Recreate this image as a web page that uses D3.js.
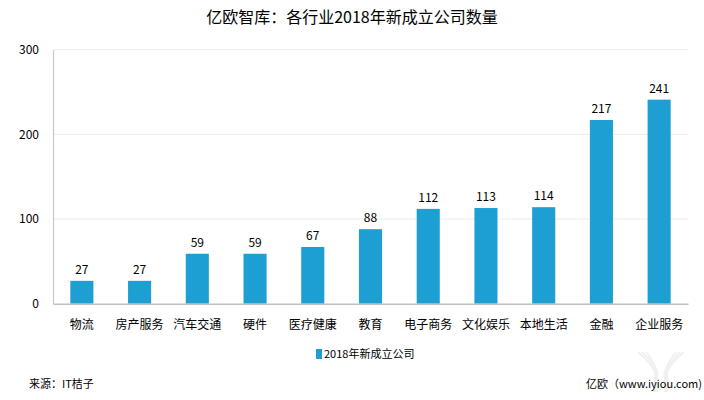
<!DOCTYPE html>
<html><head><meta charset="utf-8">
<script src="https://cdn.jsdelivr.net/npm/d3@7"></script>
<style>body{margin:0;background:#fff}svg{display:block}text{font-family:"Noto Sans CJK SC","Microsoft YaHei",sans-serif}</style>
</head><body><svg id="c" width="704" height="400"></svg>
<script>
const categories = ["物流","房产服务","汽车交通","硬件","医疗健康","教育","电子商务","文化娱乐","本地生活","金融","企业服务"];
const values = [27,27,59,59,67,88,112,113,114,217,241];
const yTicks = [0,100,200,300];
const seriesName = "2018年新成立公司";
const title = "亿欧智库：各行业2018年新成立公司数量";
const source = "来源：IT桔子";
const credit = "亿欧（www.iyiou.com)";

const svg = d3.select("#c");
const L=53,R=688,T=49.7,B=303.7;
const x = d3.scaleBand().domain(categories).range([L,R]).paddingInner(0.6).paddingOuter(0.3);
const y = d3.scaleLinear().domain([0,300]).range([B,T]);

// watermark logo
const wm = svg.append("g").attr("fill","none").attr("stroke","#f0f0f0").attr("stroke-width",2);
[0,4,8].forEach(o=>{
  wm.append("path").attr("d",`M${638+o},${352} Q${650+o*0.5},${362} ${655+o*0.3},${372} L${655+o*0.3},${392}`);
  wm.append("path").attr("d",`M${684-o},${352} Q${672-o*0.5},${362} ${667-o*0.3},${372} L${667-o*0.3},${392}`);
});

// grid
svg.append("g").selectAll("line").data(yTicks.filter(d=>d>0)).join("line")
  .attr("x1",L).attr("x2",R).attr("y1",d=>y(d)).attr("y2",d=>y(d))
  .attr("stroke","#ececec").attr("stroke-width",1);

// y axis
const ya = svg.append("g").attr("transform",`translate(${L},0)`)
  .call(d3.axisLeft(y).tickValues(yTicks).tickSize(0).tickPadding(14));
ya.select(".domain").attr("stroke","#c8c8c8").attr("stroke-width",1.2);
ya.selectAll("text").attr("font-size",12).attr("fill","#000").attr("font-family","Liberation Sans, Arial, sans-serif");

// bars
svg.append("g").selectAll("rect").data(values).join("rect")
  .attr("x",(d,i)=>x(categories[i])).attr("width",x.bandwidth())
  .attr("y",d=>y(d)).attr("height",d=>B-y(d)).attr("fill","#1e9fd3");

// value labels
svg.append("g").selectAll("text").data(values).join("text")
  .attr("x",(d,i)=>x(categories[i])+x.bandwidth()/2).attr("y",d=>y(d)-7)
  .attr("text-anchor","middle").attr("font-size",12).attr("fill","#000")
  .attr("font-family","Liberation Sans, Arial, sans-serif").text(d=>d);

// x axis
const xa = svg.append("g").attr("transform",`translate(0,${B})`)
  .call(d3.axisBottom(x).tickSize(0).tickPadding(17).tickSizeOuter(0));
xa.select(".domain").attr("stroke","#c0c0c0").attr("stroke-width",1.5);
xa.selectAll("text").attr("font-size",12).attr("fill","#000")
  .attr("font-family","Noto Sans CJK SC, sans-serif");

// title
svg.append("text").attr("x",352).attr("y",23).attr("text-anchor","middle")
  .attr("font-size",16).attr("fill","#000").text(title);

// legend
const lg = svg.append("g");
lg.append("rect").attr("x",316).attr("y",349).attr("width",6).attr("height",10).attr("fill","#1e9fd3");
lg.append("text").attr("x",324).attr("y",358).attr("font-size",11).attr("fill","#000").text(seriesName);

// footer
svg.append("text").attr("x",29).attr("y",388).attr("font-size",11).attr("fill","#000").text(source);
svg.append("text").attr("x",702).attr("y",388).attr("text-anchor","end").attr("font-size",11).attr("fill","#000").text(credit);
</script></body></html>
